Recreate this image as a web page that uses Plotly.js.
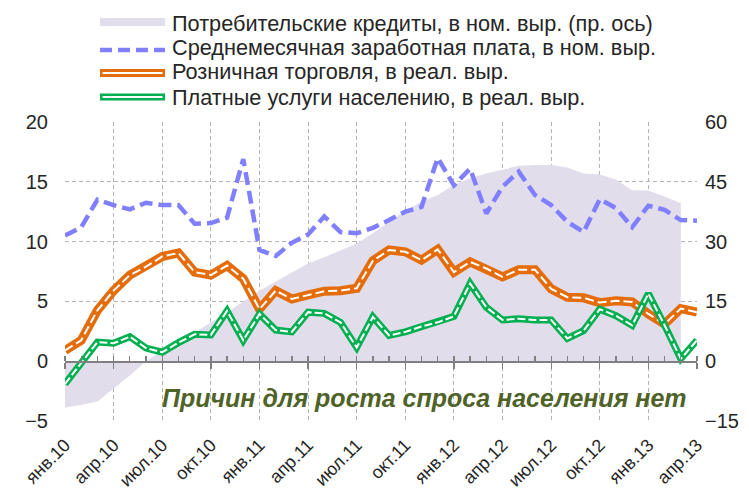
<!DOCTYPE html>
<html>
<head>
<meta charset="utf-8">
<script src="https://cdn.plot.ly/plotly-3.0.1.min.js"></script>
<style>html,body{margin:0;padding:0;background:#fff;}#chart{width:749px;height:496px;}</style>
</head>
<body>
<div id="chart"></div>
<script>
// month index 0 = янв.10 ... 39 = апр.13
const months = Array.from({length: 40}, (_, i) => i);
const creditMonths = months.slice(0, 39);
const tickPositions = [0, 3, 6, 9, 12, 15, 18, 21, 24, 27, 30, 33, 36, 39];
const tickLabels = ["янв.10","апр.10","июл.10","окт.10","янв.11","апр.11","июл.11","окт.11","янв.12","апр.12","июл.12","окт.12","янв.13","апр.13"];

const seriesNames = [
  "Потребительские кредиты, в ном. выр. (пр. ось)",
  "Среднемесячная заработная плата, в ном. выр.",
  "Розничная торговля, в реал. выр.",
  "Платные услуги населению, в реал. выр."
];

const credit = [-11.6, -11.0, -10.1, -6.9, -3.6, 0.0, 2.7, 4.6, 7.1, 9.8, 12.3, 15.0, 17.7, 20.0, 22.2, 24.5, 26.1, 27.9, 29.5, 32.1, 35.0, 37.8, 40.0, 41.7, 44.2, 45.9, 47.1, 48.1, 49.0, 49.2, 49.2, 48.6, 47.1, 46.8, 45.6, 42.9, 42.8, 41.3, 39.6];
const wage = [10.5, 11.2, 13.5, 13.05, 12.7, 13.25, 13.05, 13.05, 11.5, 11.55, 12.0, 16.9, 9.3, 8.8, 9.9, 10.6, 12.1, 10.8, 10.7, 11.15, 11.8, 12.5, 12.9, 17.0, 14.7, 16.1, 12.35, 14.6, 15.85, 13.9, 13.05, 11.65, 10.8, 13.55, 12.8, 11.2, 13.0, 12.65, 11.8, 11.75];
const retail = [0.9, 1.75, 4.25, 5.9, 7.2, 7.9, 8.75, 9.05, 7.45, 7.2, 8.0, 6.9, 4.35, 5.9, 5.2, 5.55, 5.85, 5.9, 6.1, 8.4, 9.3, 9.15, 8.45, 9.35, 7.45, 8.3, 7.75, 7.05, 7.65, 7.65, 6.05, 5.35, 5.3, 4.9, 5.05, 4.95, 3.95, 3.1, 4.4, 4.1];
const services = [-1.9, -0.1, 1.6, 1.5, 2.05, 1.1, 0.75, 1.55, 2.25, 2.2, 4.2, 1.75, 3.95, 2.6, 2.45, 4.1, 4.0, 3.25, 1.15, 3.7, 2.15, 2.45, 2.9, 3.25, 3.75, 6.5, 4.5, 3.45, 3.55, 3.45, 3.45, 1.9, 2.55, 4.35, 3.8, 3.0, 5.65, 3.0, 0.2, 1.75];

const annotationText = "Причин для роста спроса населения нет";

// styling
const C = {area: '#E2DDEB', blue: '#7F7FFF', orange: '#E46C0A', green: '#00B050', grid: '#B3B3B3', axis: '#808080', text: '#262626', note: '#4F6228'};
const FONT = '"Liberation Sans", Arial, sans-serif';

// plot area in pixels
const L = 65, R = 697, T = 122, B = 421;
const px = x => (x - L) / (R - L);
const py = y => (B - y) / (B - T);

const traces = [
  {x: creditMonths, y: credit, type: 'scatter', mode: 'lines', fill: 'tozeroy', fillcolor: C.area,
   line: {width: 0, color: C.area}, xaxis: 'x', yaxis: 'y', hoverinfo: 'skip', showlegend: false},
  {x: months, y: wage, type: 'scatter', mode: 'lines', line: {color: C.blue, width: 4.5, dash: '13px,6px'},
   xaxis: 'x2', yaxis: 'y2', showlegend: false},
  {x: months, y: retail, type: 'scatter', mode: 'lines', line: {color: C.orange, width: 9},
   xaxis: 'x2', yaxis: 'y2', showlegend: false},
  {x: months, y: retail, type: 'scatter', mode: 'lines', line: {color: '#FFFFFF', width: 2, dash: '9px,4px'},
   xaxis: 'x2', yaxis: 'y2', showlegend: false},
  {x: months, y: services, type: 'scatter', mode: 'lines', line: {color: C.green, width: 7},
   xaxis: 'x2', yaxis: 'y2', showlegend: false},
  {x: months, y: services, type: 'scatter', mode: 'lines', line: {color: '#FFFFFF', width: 2, dash: '8px,3px'},
   xaxis: 'x2', yaxis: 'y2', showlegend: false}
];

// custom legend
const lx0 = px(100), lx1 = px(165);
const rows = [23, 48, 72, 97];
const shapes = [
  {type: 'rect', xref: 'paper', yref: 'paper', x0: lx0, x1: lx1, y0: py(26), y1: py(18), fillcolor: C.area, line: {width: 0}},
  {type: 'line', xref: 'paper', yref: 'paper', x0: lx0, x1: lx1, y0: py(50), y1: py(50), line: {color: C.blue, width: 4.5, dash: '12px,6px'}},
  {type: 'line', xref: 'paper', yref: 'paper', x0: lx0, x1: lx1, y0: py(73), y1: py(73), line: {color: C.orange, width: 8}},
  {type: 'line', xref: 'paper', yref: 'paper', x0: lx0 + 0.004, x1: lx1 - 0.004, y0: py(73), y1: py(73), line: {color: '#FFFFFF', width: 2}},
  {type: 'line', xref: 'paper', yref: 'paper', x0: lx0, x1: lx1, y0: py(97), y1: py(97), line: {color: C.green, width: 7}},
  {type: 'line', xref: 'paper', yref: 'paper', x0: lx0 + 0.004, x1: lx1 - 0.004, y0: py(97), y1: py(97), line: {color: '#FFFFFF', width: 2}}
];
const annotations = seriesNames.map((t, i) => ({
  text: t, xref: 'paper', yref: 'paper', x: px(170), y: py(rows[i]), xanchor: 'left', yanchor: 'middle',
  showarrow: false, font: {family: FONT, size: 21.7, color: C.text}
}));
annotations.push({
  text: '<b><i>' + annotationText + '</i></b>', xref: 'paper', yref: 'paper', x: px(424), y: py(398),
  xanchor: 'center', yanchor: 'middle', showarrow: false, font: {family: FONT, size: 25, color: C.note}
});

const layout = {
  width: 749, height: 496,
  margin: {l: L, r: 749 - R, t: T, b: 496 - B, pad: 0},
  paper_bgcolor: '#FFFFFF', plot_bgcolor: '#FFFFFF',
  font: {family: FONT, color: C.text},
  showlegend: false,
  xaxis: {range: [0, 39], tickvals: tickPositions, ticktext: tickLabels, tickangle: -45,
    tickfont: {size: 18, color: C.text}, showgrid: true, gridcolor: C.grid, griddash: '4px,3px', gridwidth: 1,
    zeroline: false, showline: false, ticks: '', ticklabelstandoff: 9},
  yaxis: {range: [-15, 60], dtick: 15, tick0: -15, side: 'right', tickfont: {size: 20, color: C.text},
    showgrid: true, gridcolor: C.grid, griddash: '4px,3px', gridwidth: 1, zeroline: false, showline: false,
    ticks: '', ticklabelstandoff: 7},
  xaxis2: {overlaying: 'x', anchor: 'free', position: 0.2, range: [0, 39], showgrid: false, zeroline: false,
    showline: true, linecolor: C.axis, linewidth: 1.5, showticklabels: false,
    tickvals: tickPositions, ticks: 'outside', ticklen: 6, tickcolor: C.axis, tickwidth: 1.3,
    minor: {dtick: 1, tick0: 0, ticks: 'inside', ticklen: 5, tickcolor: C.axis, tickwidth: 1.3}},
  yaxis2: {overlaying: 'y', anchor: 'x', side: 'left', range: [-5, 20], dtick: 5, tick0: -5,
    tickfont: {size: 20, color: C.text}, showgrid: false, zeroline: false, showline: false,
    ticks: '', ticklabelstandoff: 16},
  shapes: shapes,
  annotations: annotations
};

Plotly.newPlot('chart', traces, layout, {staticPlot: true, displayModeBar: false});
</script>
</body>
</html>
